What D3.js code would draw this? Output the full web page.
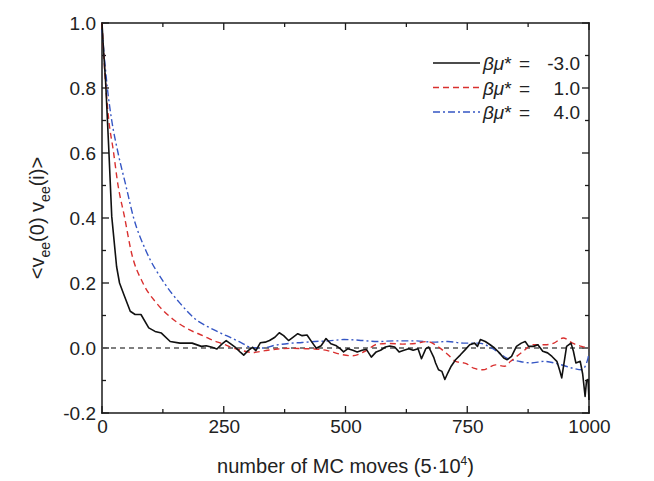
<!DOCTYPE html>
<html>
<head>
<meta charset="utf-8">
<script src="https://cdn.jsdelivr.net/npm/d3@7"></script>
<style>
  body { margin: 0; background: #fff; }
  text { font-family: Arial, "Liberation Sans", sans-serif; fill: #222; }
</style>
</head>
<body>
<script>
// autocorrelation curves, [MC move index, <v(0) v(i)>]
var muMinus3 = [[0,1.0],[3,0.92],[7.6,0.815],[14,0.61],[20,0.405],[30,0.25],[36,0.2],[46,0.16],[58,0.113],
  [68,0.103],[80,0.103],[96,0.062],[109,0.051],[122,0.046],[140,0.02],[160,0.015],[185,0.015],[204,0.005],
  [214,0.007],[226,0.002],[236,-0.003],[246,0.012],[255,0.023],[265,0.012],[274,0.002],[284,-0.013],
  [291,-0.022],[300,-0.008],[309,0.002],[316,-0.008],[325,0.016],[335,0.018],[344,0.023],[355,0.033],
  [364,0.047],[373,0.038],[383,0.023],[392,0.033],[402,0.044],[411,0.038],[421,0.04],[431,0.018],
  [440,-0.001],[450,0.007],[460,0.029],[470,0.013],[480,0.008],[489,-0.002],[496,-0.012],[505,-0.002],
  [515,-0.007],[524,-0.012],[534,-0.007],[543,-0.004],[553,-0.028],[563,-0.012],[572,-0.007],[582,0.003],
  [591,0.006],[601,0.003],[610,-0.012],[620,-0.007],[630,-0.002],[639,-0.007],[649,-0.002],[656,-0.033],
  [665,-0.002],[671,0.003],[681,-0.028],[685,-0.046],[691,-0.067],[698,-0.072],[704,-0.097],[710,-0.077],
  [717,-0.056],[726,-0.036],[736,-0.021],[746,-0.005],[755,0.01],[765,0.015],[771,0.005],[777,0.026],
  [787,0.02],[797,0.01],[806,0],[816,-0.015],[825,-0.031],[832,-0.036],[841,-0.026],[851,0.005],
  [861,0.015],[869,0.02],[876,0.005],[886,0.005],[895,0.01],[905,-0.01],[915,-0.015],[924,-0.026],
  [934,-0.041],[940,-0.07],[944,-0.092],[954,0.005],[963,0.015],[968,-0.01],[973,-0.046],[982,-0.041],
  [987,-0.08],[992,-0.149],[995,-0.1],[998,-0.097],[1000,-0.16]];

var muPlus1 = [[0,1.0],[8,0.8],[14,0.7],[23,0.61],[33,0.5],[46,0.405],[61,0.29],[84,0.2],[112,0.138],
  [147,0.087],[172,0.062],[210,0.036],[230,0.022],[248,0.013],[265,0.002],[286,-0.007],[310,-0.014],
  [335,-0.008],[361,-0.003],[386,-0.001],[412,-0.002],[437,-0.003],[463,-0.008],[489,-0.019],
  [515,-0.024],[540,-0.01],[566,0.012],[591,0.014],[617,0.012],[643,0.014],[668,0.02],[690,0.004],
  [710,-0.02],[726,-0.041],[748,-0.048],[763,-0.062],[782,-0.067],[808,-0.052],[827,-0.056],
  [839,-0.041],[865,-0.01],[884,0.01],[909,0.01],[928,0.015],[947,0.031],[966,0.015],[985,0.005],[1000,0]];

var muPlus4 = [[0,0.98],[11,0.8],[20,0.7],[33,0.6],[49,0.5],[65,0.4],[90,0.3],[128,0.2],[160,0.138],
  [198,0.082],[214,0.068],[242,0.047],[270,0.028],[290,0.013],[305,0.002],[330,0.0],[354,0.008],
  [383,0.014],[411,0.017],[437,0.02],[466,0.022],[497,0.026],[527,0.024],[566,0.02],[604,0.022],
  [642,0.022],[681,0.018],[710,0.02],[742,0.015],[774,0.015],[800,0.0],[820,-0.02],[831,-0.031],
  [857,-0.041],[882,-0.046],[908,-0.041],[941,-0.051],[966,-0.062],[985,-0.067],[998,-0.031],[1000,-0.015]];

var legendLabels = ["-3.0", "1.0", "4.0"];
var xMajor = [0, 250, 500, 750, 1000];
var xMinor = [125, 375, 625, 875];
var yMajor = [-0.2, 0.0, 0.2, 0.4, 0.6, 0.8, 1.0];
var yMinor = [-0.1, 0.1, 0.3, 0.5, 0.7, 0.9];

var W = 654, H = 481;
var margin = { top: 23, right: 65, bottom: 68, left: 102 },
  width = W - margin.left - margin.right,
  height = H - margin.top - margin.bottom;

var x = d3.scaleLinear().domain([0, 1000]).range([0, width]);
var y = d3.scaleLinear().domain([-0.2, 1.0]).range([height, 0]);

var svg = d3.select("body").append("svg")
  .attr("width", W)
  .attr("height", H);

var g = svg.append("g")
  .attr("transform", "translate(" + margin.left + "," + margin.top + ")");

var axisColor = "#1a1a1a";
var fontStack = "Arial, 'Liberation Sans', sans-serif";
var hyphen = function (d) { return d3.format(".1f")(d).replace("\u2212", "-"); };

// frame as four plain lines (left, right, top, bottom)
var frame = [
  [x(0), y(-0.2), x(0), y(1.0)],
  [x(1000), y(-0.2), x(1000), y(1.0)],
  [x(0), y(1.0), x(1000), y(1.0)],
  [x(0), y(-0.2), x(1000), y(-0.2)]
];
g.selectAll(".frame").data(frame).enter().append("line")
  .attr("class", "frame")
  .attr("x1", function (d) { return d[0]; }).attr("y1", function (d) { return d[1]; })
  .attr("x2", function (d) { return d[2]; }).attr("y2", function (d) { return d[3]; })
  .attr("stroke", axisColor).attr("stroke-width", 1.5).attr("stroke-linecap", "square");

// inward ticks, top and bottom
var xTicks = xMajor.map(function (v) { return [v, 7]; }).concat(xMinor.map(function (v) { return [v, 4]; }));
g.selectAll(".xtb").data(xTicks).enter().append("line")
  .attr("class", "xtb")
  .attr("x1", function (d) { return x(d[0]); }).attr("x2", function (d) { return x(d[0]); })
  .attr("y1", height).attr("y2", function (d) { return height - d[1]; })
  .attr("stroke", axisColor).attr("stroke-width", 1.3);
g.selectAll(".xtt").data(xTicks).enter().append("line")
  .attr("class", "xtt")
  .attr("x1", function (d) { return x(d[0]); }).attr("x2", function (d) { return x(d[0]); })
  .attr("y1", 0).attr("y2", function (d) { return d[1]; })
  .attr("stroke", axisColor).attr("stroke-width", 1.3);

// inward ticks, left and right
var yTicks = yMajor.map(function (v) { return [v, 7]; }).concat(yMinor.map(function (v) { return [v, 4]; }));
g.selectAll(".ytl").data(yTicks).enter().append("line")
  .attr("class", "ytl")
  .attr("y1", function (d) { return y(d[0]); }).attr("y2", function (d) { return y(d[0]); })
  .attr("x1", 0).attr("x2", function (d) { return d[1]; })
  .attr("stroke", axisColor).attr("stroke-width", 1.3);
g.selectAll(".ytr").data(yTicks).enter().append("line")
  .attr("class", "ytr")
  .attr("y1", function (d) { return y(d[0]); }).attr("y2", function (d) { return y(d[0]); })
  .attr("x1", width).attr("x2", function (d) { return width - d[1]; })
  .attr("stroke", axisColor).attr("stroke-width", 1.3);

var line = d3.line()
  .x(function (d) { return x(d[0]); })
  .y(function (d) { return y(d[1]); });

// zero reference line
g.append("line")
  .attr("x1", x(0)).attr("x2", x(1000))
  .attr("y1", y(0)).attr("y2", y(0))
  .attr("stroke", "#555")
  .attr("stroke-width", 1.3)
  .attr("stroke-dasharray", "5,4");

g.append("path").datum(muPlus4)
  .attr("d", line.curve(d3.curveMonotoneX))
  .attr("fill", "none").attr("stroke", "#3556c4")
  .attr("stroke-width", 1.4).attr("stroke-dasharray", "7,3,2,3");

g.append("path").datum(muPlus1)
  .attr("d", line.curve(d3.curveMonotoneX))
  .attr("fill", "none").attr("stroke", "#d9302f")
  .attr("stroke-width", 1.4).attr("stroke-dasharray", "6,4");

g.append("path").datum(muMinus3)
  .attr("d", line.curve(d3.curveLinear))
  .attr("fill", "none").attr("stroke", "#111")
  .attr("stroke-width", 1.6).attr("stroke-linejoin", "round");

// tick labels through d3 axes
function styleAxis(sel) {
  sel.select(".domain").remove();
  sel.selectAll(".tick line").remove();
  sel.selectAll(".tick text").attr("fill", axisColor)
    .style("font-size", "19px").style("font-family", fontStack);
}
g.append("g").attr("transform", "translate(0," + height + ")")
  .call(d3.axisBottom(x).tickValues(xMajor).tickSize(0).tickFormat(d3.format("d")).tickPadding(7))
  .call(styleAxis);
g.append("g")
  .call(d3.axisLeft(y).tickValues(yMajor).tickSize(0).tickFormat(hyphen).tickPadding(6))
  .call(styleAxis);

// axis titles
svg.append("text")
  .attr("x", margin.left + width / 2)
  .attr("y", 473)
  .attr("text-anchor", "middle")
  .style("font-size", "20px")
  .html("number of MC moves (5·10<tspan dy='-8' font-size='12px'>4</tspan><tspan dy='8'>)</tspan>");

svg.append("text")
  .attr("transform", "translate(44," + (margin.top + height / 2) + ") rotate(-90)")
  .attr("text-anchor", "middle")
  .style("font-size", "20px")
  .html("&lt;v<tspan dy='6' font-size='14px'>ee</tspan><tspan dy='-6'>(0) v</tspan><tspan dy='6' font-size='14px'>ee</tspan><tspan dy='-6'>(i)&gt;</tspan>");

// legend
var legendStyles = [
  { color: "#111", dash: null, w: 1.6 },
  { color: "#d9302f", dash: "6,4", w: 1.4 },
  { color: "#3556c4", dash: "7,3,2,3", w: 1.4 }
];
var legend = svg.selectAll(".legend")
  .data(legendLabels)
  .enter().append("g")
  .attr("class", "legend")
  .attr("transform", function (d, i) { return "translate(0," + (63 + i * 24.5) + ")"; });

legend.append("line")
  .attr("x1", 433).attr("x2", 480)
  .attr("stroke", function (d, i) { return legendStyles[i].color; })
  .attr("stroke-width", function (d, i) { return legendStyles[i].w; })
  .attr("stroke-dasharray", function (d, i) { return legendStyles[i].dash; });

legend.append("text")
  .attr("x", 483).attr("y", 7)
  .style("font-size", "19px")
  .html("<tspan font-style='italic'>βμ</tspan>*");

legend.append("text")
  .attr("x", 519).attr("y", 7)
  .style("font-size", "19px")
  .text("=");

legend.append("text")
  .attr("x", 580).attr("y", 7)
  .attr("text-anchor", "end")
  .style("font-size", "19px")
  .text(function (d) { return d; });
</script>
</body>
</html>
